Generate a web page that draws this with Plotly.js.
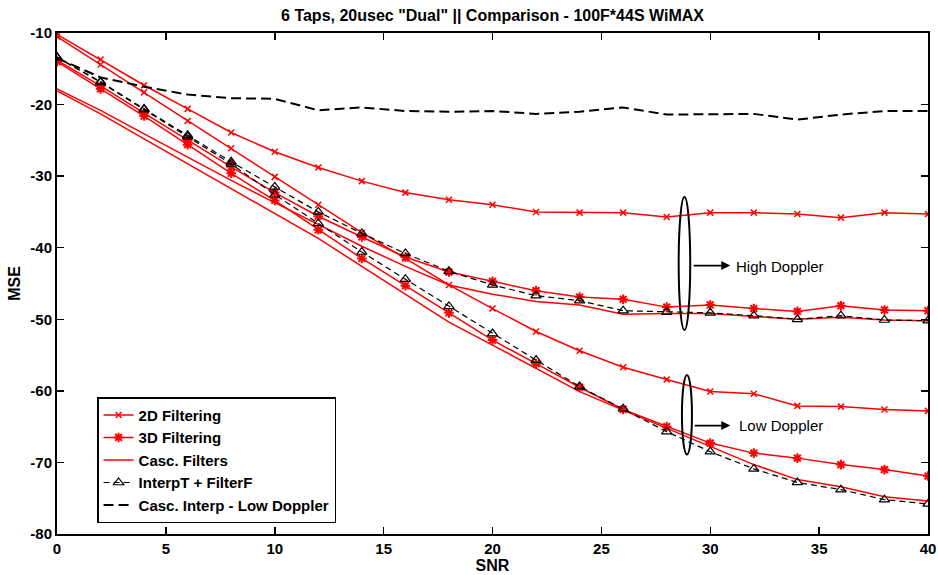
<!DOCTYPE html>
<html>
<head>
<meta charset="utf-8">
<script src="https://cdn.plot.ly/plotly-3.0.1.min.js"></script>
<style>
  html, body { margin: 0; padding: 0; background: #fff; }
  #chart { width: 938px; height: 575px; }
</style>
</head>
<body>
<div id="chart"></div>
<script>
// SNR sweep (dB)
const snr = [0, 2, 4, 6, 8, 10, 12, 14, 16, 18, 20, 22, 24, 26, 28, 30, 32, 34, 36, 38, 40];

// MSE (dB) per estimator, high and low Doppler
const filt2dHigh = [-10.2, -13.7, -17.3, -20.6, -23.9, -26.6, -28.8, -30.7, -32.3, -33.3, -34.0, -35.0, -35.1, -35.1, -35.7, -35.1, -35.1, -35.3, -35.8, -35.1, -35.3];
const filt2dLow  = [-10.5, -14.4, -18.3, -22.3, -26.1, -30.1, -34.0, -37.9, -41.5, -45.2, -48.5, -51.7, -54.4, -56.7, -58.4, -60.1, -60.4, -62.1, -62.2, -62.6, -62.8];
const filt3dHigh = [-13.8, -17.4, -21.2, -25.0, -28.7, -32.3, -35.6, -38.5, -41.3, -43.4, -44.7, -46.0, -46.9, -47.2, -48.3, -48.0, -48.5, -48.9, -48.1, -48.7, -48.8];
const filt3dLow  = [-14.0, -17.8, -21.6, -25.6, -29.6, -33.4, -37.5, -41.5, -45.3, -49.1, -52.9, -56.2, -59.5, -62.6, -65.0, -67.3, -68.7, -69.4, -70.3, -71.0, -71.9];
const cascHigh   = [-17.8, -20.8, -24.1, -27.4, -30.6, -33.7, -36.8, -39.8, -42.6, -45.2, -46.5, -47.5, -48.0, -49.3, -49.2, -49.2, -49.6, -50.0, -49.7, -50.1, -50.2];
const cascLow    = [-18.1, -21.3, -24.8, -28.3, -31.8, -35.2, -38.7, -42.6, -46.5, -50.4, -53.6, -56.9, -60.1, -62.7, -65.2, -67.8, -70.3, -72.4, -73.4, -74.8, -75.4];
const interpHigh = [-13.4, -16.8, -20.6, -24.3, -28.0, -31.5, -35.0, -38.0, -40.8, -43.3, -45.2, -46.7, -47.4, -48.8, -49.0, -49.1, -49.5, -50.0, -49.5, -50.1, -50.2];
const interpLow  = [-13.4, -16.9, -20.7, -24.5, -28.3, -32.6, -36.6, -40.6, -44.4, -48.2, -52.0, -55.7, -59.4, -62.5, -65.7, -68.5, -70.9, -72.8, -73.8, -75.2, -75.8];
const cascInterpLow = [-13.5, -16.2, -17.5, -18.6, -19.1, -19.2, -20.8, -20.4, -20.9, -21.0, -20.9, -21.3, -21.0, -20.4, -21.4, -21.3, -21.3, -22.1, -21.4, -20.9, -20.9];

// legend names
const seriesNames = ['2D Filtering', '3D Filtering', 'Casc. Filters', 'InterpT + FilterF', 'Casc. Interp - Low Doppler'];

// axis ticks
const xTicks = [0, 5, 10, 15, 20, 25, 30, 35, 40];
const yTicks = [-10, -20, -30, -40, -50, -60, -70, -80];
const yTickText = ['-10', '-20', '-30', '-40', '-50', '-60', '-70', '-80'];

const FONT = 'Liberation Sans, Arial, Helvetica, sans-serif';
const RED = '#ff0000';

const line2d = { color: RED, width: 1.5 };
const mk2d = { symbol: 'x-thin', size: 6, color: RED, line: { color: RED, width: 1.5 } };
const mk3d = { symbol: 'asterisk-open', size: 8, color: RED, line: { color: RED, width: 2 } };
const mkTri = { symbol: 'triangle-up-open', size: 9, color: 'black', line: { color: 'black', width: 1.2 } };

const traces = [
  { x: snr, y: filt2dHigh, name: seriesNames[0], legendgroup: 'g1', mode: 'lines+markers', line: line2d, marker: mk2d },
  { x: snr, y: filt2dLow,  name: seriesNames[0], legendgroup: 'g1', showlegend: false, mode: 'lines+markers', line: line2d, marker: mk2d },
  { x: snr, y: filt3dHigh, name: seriesNames[1], legendgroup: 'g2', mode: 'lines+markers', line: line2d, marker: mk3d },
  { x: snr, y: filt3dLow,  name: seriesNames[1], legendgroup: 'g2', showlegend: false, mode: 'lines+markers', line: line2d, marker: mk3d },
  { x: snr, y: cascHigh,   name: seriesNames[2], legendgroup: 'g3', mode: 'lines', line: line2d },
  { x: snr, y: cascLow,    name: seriesNames[2], legendgroup: 'g3', showlegend: false, mode: 'lines', line: line2d },
  { x: snr, y: interpHigh, name: seriesNames[3], legendgroup: 'g4', mode: 'lines+markers',
    line: { color: 'black', width: 1.2, dash: '6px,4px' }, marker: mkTri },
  { x: snr, y: interpLow,  name: seriesNames[3], legendgroup: 'g4', showlegend: false, mode: 'lines+markers',
    line: { color: 'black', width: 1.2, dash: '6px,4px' }, marker: mkTri },
  { x: snr, y: cascInterpLow, name: seriesNames[4], legendgroup: 'g5', mode: 'lines',
    line: { color: 'black', width: 2, dash: '10px,5px' } }
];

const tickFont = { family: FONT, size: 15, color: 'black', weight: 700 };
const labelFont = { family: FONT, size: 16, color: 'black', weight: 700 };
const legendFont = { family: FONT, size: 15, color: 'black', weight: 700 };
const noteFont = { family: FONT, size: 15, color: 'black' };

const axisCommon = {
  ticks: 'inside', ticklen: 7, tickwidth: 1.5, tickcolor: 'black',
  mirror: 'ticks', showline: true, linewidth: 2, linecolor: 'black',
  showgrid: false, zeroline: false, tickfont: tickFont
};

const layout = {
  width: 938, height: 575,
  margin: { l: 57, r: 10, t: 33, b: 41 },
  paper_bgcolor: 'white', plot_bgcolor: 'white',
  font: { family: FONT, color: 'black' },
  title: {
    text: '6 Taps, 20usec "Dual" || Comparison - 100F*44S WiMAX',
    font: labelFont, x: 0.5, xref: 'paper', xanchor: 'center',
    y: 0.974, yref: 'container', yanchor: 'middle'
  },
  xaxis: Object.assign({}, axisCommon, {
    range: [0, 40], tickmode: 'array', tickvals: xTicks,
    title: { text: 'SNR', font: labelFont, standoff: 2 }
  }),
  yaxis: Object.assign({}, axisCommon, {
    range: [-80, -10], tickmode: 'array', tickvals: yTicks, ticktext: yTickText,
    title: { text: 'MSE', font: labelFont, standoff: 6 }
  }),
  legend: {
    x: 0.046, y: 0.273, xanchor: 'left', yanchor: 'top',
    bgcolor: 'white', bordercolor: 'black', borderwidth: 1.5,
    font: legendFont, tracegroupgap: 0, traceorder: 'normal'
  },
  shapes: [
    { type: 'circle', xref: 'x', yref: 'y', x0: 28.55, x1: 29.08, y0: -51.5, y1: -32.9,
      line: { color: 'black', width: 2 } },
    { type: 'circle', xref: 'x', yref: 'y', x0: 28.70, x1: 29.16, y0: -68.9, y1: -57.8,
      line: { color: 'black', width: 2 } }
  ],
  annotations: [
    { x: 30.92, y: -42.5, ax: 29.17, ay: -42.5, xref: 'x', yref: 'y', axref: 'x', ayref: 'y',
      text: '', showarrow: true, arrowhead: 2, arrowsize: 1, arrowwidth: 1.8, arrowcolor: 'black' },
    { x: 31.1, y: -42.6, xref: 'x', yref: 'y', text: 'High Doppler', showarrow: false,
      xanchor: 'left', yanchor: 'middle', font: noteFont },
    { x: 30.92, y: -64.85, ax: 29.22, ay: -64.85, xref: 'x', yref: 'y', axref: 'x', ayref: 'y',
      text: '', showarrow: true, arrowhead: 2, arrowsize: 1, arrowwidth: 1.8, arrowcolor: 'black' },
    { x: 31.23, y: -64.85, xref: 'x', yref: 'y', text: 'Low Doppler', showarrow: false,
      xanchor: 'left', yanchor: 'middle', font: noteFont }
  ],
  showlegend: true
};

Plotly.newPlot('chart', traces, layout, { displayModeBar: false, staticPlot: true });
</script>
</body>
</html>
